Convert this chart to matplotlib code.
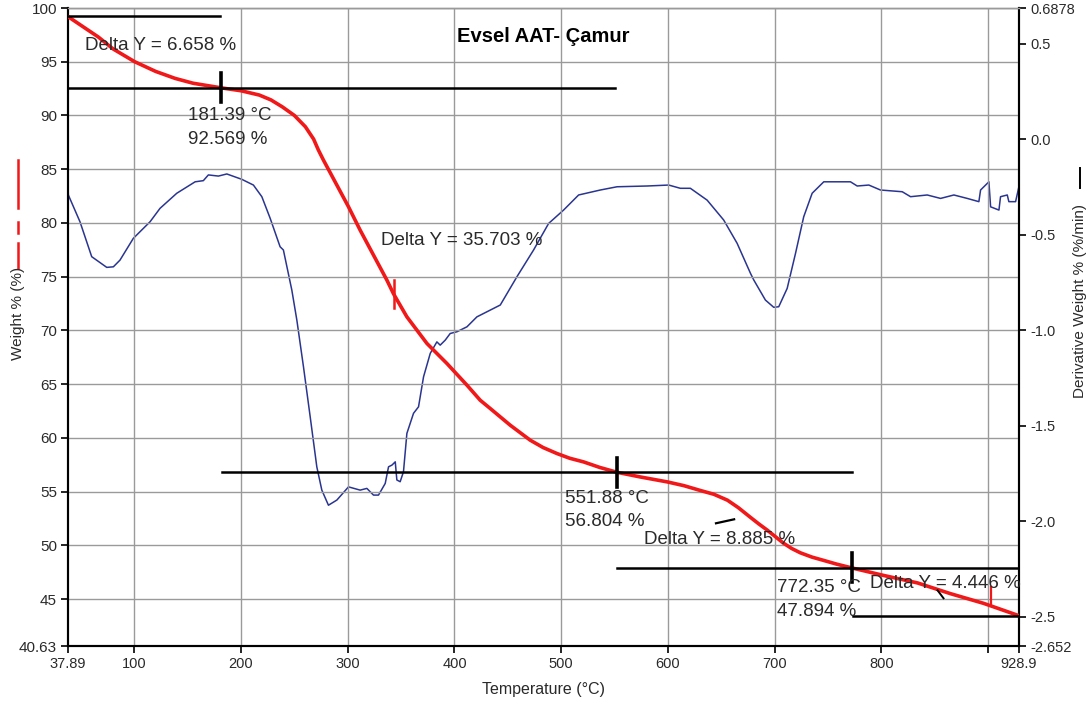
import matplotlib
matplotlib.use("Agg")
import matplotlib.pyplot as plt
from matplotlib.lines import Line2D

plt.rcParams['font.family'] = ['Liberation Sans', 'DejaVu Sans']

# ---------------- data ----------------
temp_w = [37.89, 66.3, 80.0, 100.4, 120.0, 138.2, 155.0, 181.39, 200.0, 217.1,
          228.0, 238.7, 250.0, 260.3, 268.0, 272.5, 277.2, 300.7, 311.6, 336.7,
          342.9, 355.4, 374.2, 392.9, 411.7, 424.1, 433.5, 452.3, 471.0, 483.0,
          496.0, 508.0, 521.0, 536.0, 551.88, 574.1, 599.4, 615.0, 630.4, 643.0,
          655.7, 666.0, 677.3, 685.0, 693.2, 708.2, 716.0, 724.1, 735.0, 745.7,
          758.0, 772.35, 801.9, 833.8, 864.7, 895.7, 928.9]
weight = [99.2, 97.3, 96.2, 95.0, 94.1, 93.45, 93.0, 92.569, 92.3, 91.9,
          91.45, 90.8, 90.0, 88.95, 87.8, 86.78, 85.85, 81.5, 79.33, 74.67,
          73.4, 71.26, 68.78, 66.92, 64.9, 63.5, 62.73, 61.17, 59.78, 59.1,
          58.54, 58.1, 57.76, 57.25, 56.804, 56.36, 55.9, 55.55, 55.1, 54.75,
          54.2, 53.5, 52.6, 52.0, 51.4, 50.2, 49.7, 49.3, 48.9, 48.6,
          48.25, 47.894, 47.2, 46.5, 45.5, 44.6, 43.448]

temp_d = [37.89, 37.9, 38.2, 49.1, 60.1, 74.2, 80.4, 86.6, 99.1, 114.8, 124.1,
          139.8, 157.0, 164.7, 169.4, 178.8, 186.7, 200.7, 211.6, 219.5, 227.3,
          236.6, 239.7, 247.6, 252.3, 258.5, 264.8, 271.0, 275.7, 281.9, 289.8,
          300.7, 311.6, 317.9, 324.1, 328.8, 335.1, 338.2, 341.4, 344.5, 346.0,
          349.1, 352.2, 355.4, 361.6, 366.3, 371.0, 377.3, 383.5, 386.6, 391.3,
          396.0, 402.3, 411.7, 421.0, 442.9, 458.5, 474.1, 488.2, 502.2, 516.3,
          536.6, 552.3, 580.4, 600.7, 611.6, 621.0, 636.7, 652.2, 664.8, 677.3,
          680.4, 691.3, 699.1, 703.8, 711.7, 719.5, 727.2, 735.1, 746.0, 771.0,
          777.3, 788.2, 799.1, 819.5, 827.3, 842.9, 855.4, 867.9, 880.4, 891.3,
          892.9, 900.7, 902.3, 910.1, 911.6, 917.9, 919.4, 925.7, 928.8]
deriv = [-0.62, -0.24, -0.291, -0.431, -0.614, -0.670, -0.667, -0.632, -0.518, -0.431, -0.361,
         -0.282, -0.222, -0.216, -0.186, -0.192, -0.181, -0.209, -0.239, -0.300, -0.413,
         -0.562, -0.579, -0.789, -0.946, -1.190, -1.452, -1.714, -1.836, -1.915, -1.888,
         -1.819, -1.836, -1.827, -1.862, -1.862, -1.801, -1.714, -1.705, -1.688, -1.783,
         -1.792, -1.740, -1.539, -1.434, -1.400, -1.243, -1.120, -1.060, -1.077, -1.051,
         -1.016, -1.007, -0.981, -0.929, -0.867, -0.719, -0.579, -0.440, -0.370, -0.291,
         -0.265, -0.248, -0.244, -0.239, -0.256, -0.256, -0.318, -0.422, -0.544, -0.701,
         -0.736, -0.841, -0.879, -0.876, -0.780, -0.597, -0.405, -0.282, -0.222, -0.222,
         -0.244, -0.239, -0.265, -0.274, -0.300, -0.291, -0.309, -0.291, -0.309, -0.326,
         -0.265, -0.222, -0.353, -0.370, -0.300, -0.291, -0.326, -0.326, -0.248]

# step (Delta Y) lines: level, start T, end T
step_levels = [99.227, 92.569, 56.804, 47.894, 43.448]
step_start = [37.89, 37.89, 182.3, 552.6, 773.8]
step_end = [180.4, 550.7, 772.0, 928.9, 928.9]

# onset markers
marker_T = [181.39, 551.88, 772.35]
marker_W = [92.569, 56.804, 47.894]

# annotations: text, T, W
ann_text = ["Delta Y = 6.658 %", "181.39 °C", "92.569 %", "Delta Y = 35.703 %",
            "551.88 °C", "56.804 %", "Delta Y = 8.885 %", "772.35 °C", "47.894 %",
            "Delta Y = 4.446 %"]
ann_T = [53.8, 150.4, 150.4, 331.3, 503.8, 503.8, 577.2, 702.3, 702.3, 789.1]
ann_W = [96.55, 90.04, 87.8, 78.4, 54.38, 52.23, 50.53, 46.12, 43.88, 46.49]

# axis ticks
x_ticks = [37.89, 100, 200, 300, 400, 500, 600, 700, 800, 900, 928.9]
x_labels = ["37.89", "100", "200", "300", "400", "500", "600", "700", "800", "", "928.9"]
yl_ticks = [40.63, 45, 50, 55, 60, 65, 70, 75, 80, 85, 90, 95, 100]
yl_labels = ["40.63", "45", "50", "55", "60", "65", "70", "75", "80", "85", "90", "95", "100"]
yr_ticks = [-2.652, -2.5, -2.0, -1.5, -1.0, -0.5, 0.0, 0.5, 0.6878]
yr_labels = ["-2.652", "-2.5", "-2.0", "-1.5", "-1.0", "-0.5", "0.0", "0.5", "0.6878"]

# ---------------- figure ----------------
W_PX, H_PX = 1091, 705
fig = plt.figure(figsize=(W_PX / 100, H_PX / 100), dpi=100)
ax = fig.add_axes([68 / W_PX, 1 - 646 / H_PX, (1019 - 68) / W_PX, (646 - 8) / H_PX])
ax2 = ax.twinx()

grid_c = "#9a9a9a"
txt_c = "#2a2a2a"

ax.set_xlim(37.89, 928.9)
ax.set_ylim(40.63, 100)
ax2.set_ylim(-2.652, 0.6878)

# grid
for t in x_ticks[1:-1]:
    ax.axvline(t, color=grid_c, lw=1.0, zorder=0)
for v in yl_ticks[1:]:
    ax.axhline(v, color=grid_c, lw=1.0, zorder=0)

# derivative curve
ax2.plot(temp_d, deriv, color="#2a3590", lw=1.1, zorder=2)

# weight curve
ax.plot(temp_w, weight, color="#f01818", lw=2.6, zorder=4,
        solid_capstyle="round", solid_joinstyle="round")
ax.plot([343.5, 343.5], [72.1, 74.7], color="#f01818", lw=1.8, zorder=4)
ax.plot([902.3, 902.3], [44.41, 46.09], color="#f01818", lw=1.6, zorder=4)

# delta-Y step lines
for lev, s, e in zip(step_levels, step_start, step_end):
    ax.plot([s, e], [lev, lev], color="black", lw=1.8, zorder=5)
for mt, mw in zip(marker_T, marker_W):
    ax.plot([mt, mt], [mw - 1.35, mw + 1.35], color="black", lw=2.6, zorder=5)
ax.plot([645.0, 662.0], [52.05, 52.42], color="black", lw=1.6, zorder=5)
ax.plot([852.6, 858.2], [45.81, 45.07], color="black", lw=1.4, zorder=5)

for t, x, y in zip(ann_text, ann_T, ann_W):
    ax.text(x, y, t, fontsize=13.5, color=txt_c, ha="left", va="center", zorder=6)

ax.text(0.5, 0.955, "Evsel AAT- Çamur", transform=ax.transAxes, fontsize=14.5,
        fontweight="bold", ha="center", va="center", color="black")

# axes styling
ax.set_xticks(x_ticks)
ax.set_xticklabels(x_labels, family=["Liberation Sans Narrow", "Liberation Sans"], fontsize=10.5)
ax.set_yticks(yl_ticks)
ax.set_yticklabels(yl_labels, fontsize=11)
ax2.set_yticks(yr_ticks)
ax2.set_yticklabels(yr_labels, fontsize=10.5)
for a in (ax, ax2):
    a.tick_params(direction="out", length=5, width=1.2, colors="black", labelcolor=txt_c, pad=3)
    a.spines["top"].set_color(grid_c)
    a.spines["top"].set_linewidth(1.0)
    a.spines["left"].set_linewidth(1.5)
    a.spines["right"].set_linewidth(1.5)
    a.spines["bottom"].set_linewidth(1.5)
ax.set_zorder(ax2.get_zorder() + 1)
ax.patch.set_visible(False)

ax.set_xlabel("Temperature (°C)", family=["Liberation Sans Narrow", "Liberation Sans"],
              fontsize=11.5, color=txt_c, labelpad=8)

# left axis title with red line legend
fig.text(18 / W_PX, 1 - 313 / H_PX, "Weight % (%)", rotation=90, ha="center", va="center",
         fontsize=11, color=txt_c)
for y0, y1 in [(160, 208), (222, 233), (243, 268)]:
    fig.add_artist(Line2D([18 / W_PX, 18 / W_PX], [1 - y0 / H_PX, 1 - y1 / H_PX],
                          color="#f01818", lw=1.8))

# right axis title with black line legend
fig.text(1080 / W_PX, 1 - 301 / H_PX, "Derivative Weight % (%/min)", rotation=90,
         ha="center", va="center", fontsize=11, color=txt_c)
fig.add_artist(Line2D([1080 / W_PX, 1080 / W_PX], [1 - 168 / H_PX, 1 - 188 / H_PX],
                      color="black", lw=1.4))

fig.savefig("out.png", dpi=100)
